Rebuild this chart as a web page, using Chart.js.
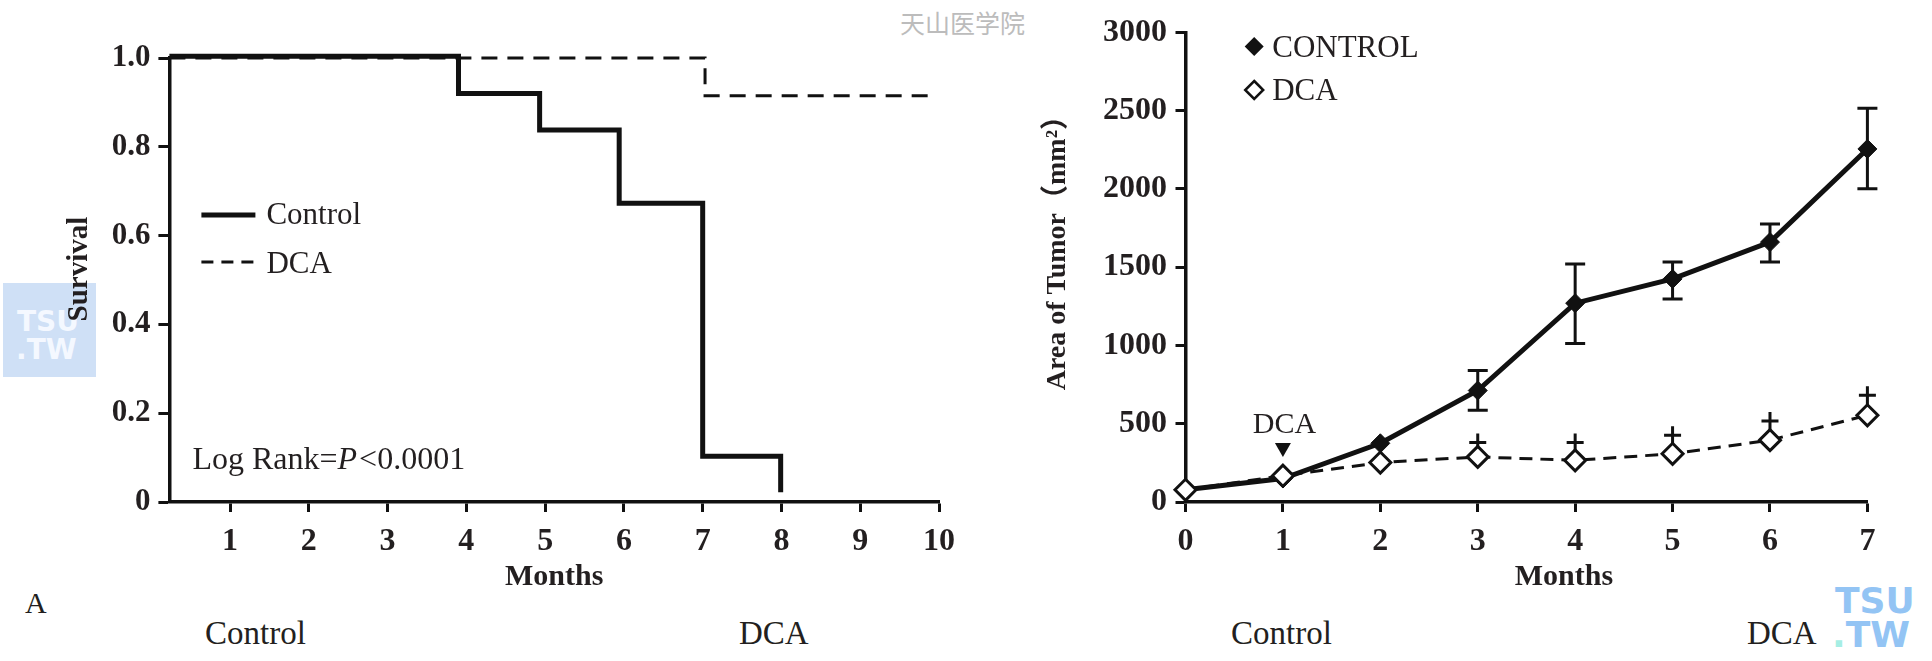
<!DOCTYPE html>
<html><head><meta charset="utf-8">
<script src="https://cdn.jsdelivr.net/npm/chart.js@4.4.1/dist/chart.umd.min.js"></script>
<style>
html,body{margin:0;padding:0;background:#fff;}
body{width:1932px;height:661px;position:relative;overflow:hidden;font-family:"Liberation Serif",serif;color:#231f20;}
.abs{position:absolute;white-space:nowrap;line-height:1;}
canvas{position:absolute;top:0;}
</style></head><body>
<div class="abs" style="left:3px;top:283px;width:93px;height:94px;background:#cfe0f6;"></div>
<div class="abs" style="left:17px;top:308px;font:bold 28px 'DejaVu Sans';color:#f4f8ff;line-height:1;">TSU</div>
<div class="abs" style="left:16px;top:336px;font:bold 28px 'DejaVu Sans';color:#f4f8ff;line-height:1;">.TW</div>
<div class="abs" style="left:1835px;top:583px;font:bold 36px 'DejaVu Sans';color:#93c4f4;line-height:1;">TSU</div>
<div class="abs" style="left:1832px;top:617px;font:bold 36px 'DejaVu Sans';color:#93c4f4;line-height:1;"><span style="color:#a6eee4">.</span>TW</div>
<div class="abs" style="left:900px;top:4px;font:25px 'Noto Sans CJK SC';color:#bcbcbc;">天山医学院</div>
<div class="abs" style="left:205px;top:617px;font-size:33px;">Control</div>
<div class="abs" style="left:739px;top:617px;font-size:33px;">DCA</div>
<div class="abs" style="left:1231px;top:617px;font-size:33px;">Control</div>
<div class="abs" style="left:1747px;top:617px;font-size:33px;">DCA</div>
<div class="abs" style="left:25px;top:588px;font-size:30px;">A</div>
<canvas id="c1" width="966" height="661" style="left:0;width:966px;height:661px;"></canvas>
<canvas id="c2" width="966" height="661" style="left:966px;width:966px;height:661px;"></canvas>
<script>
// ---- Survival (Kaplan-Meier) data ----
const kmControlTimes = [0.23, 3.9, 4.93, 5.94, 7.0, 7.99];
const kmControlSurv  = [1.004, 0.92, 0.838, 0.673, 0.103, 0.022];
const kmDcaTimes = [0.23, 7.03, 9.97];
const kmDcaSurv  = [1.0, 0.915, 0.915];
const kmXTicks = [1, 2, 3, 4, 5, 6, 7, 8, 9, 10];
const kmYTicks = [0, 0.2, 0.4, 0.6, 0.8, 1.0];

// ---- Tumor area data ----
const months = [0, 1, 2, 3, 4, 5, 6, 7];
const controlArea    = [78, 150, 375, 712, 1270, 1425, 1660, 2255];
const controlErrLow  = [null, null, null, 586, 1012, 1297, 1533, 2000];
const controlErrHigh = [null, null, null, 840, 1520, 1533, 1775, 2515];
const dcaArea        = [78, 168, 252, 288, 266, 308, 395, 554];
const dcaErrHigh     = [null, null, null, 380, 380, 427, 518, 682];
const areaYTicks = [0, 500, 1000, 1500, 2000, 2500, 3000];

const INK = '#111';
const TXT = '#231f20';
const SERIF = '"Liberation Serif", "Noto Sans CJK SC", serif';
Chart.defaults.font.family = SERIF;
Chart.defaults.color = TXT;

function axisCommon(tickLen) {
  return {
    grid: {display: true, drawOnChartArea: false, drawTicks: true, tickLength: tickLen, tickWidth: 3, tickColor: INK},
    border: {display: true, color: INK, width: 3.5}
  };
}

const kmLegend = {
  id: 'kmLegend',
  afterDraw(chart) {
    const ctx = chart.ctx, a = chart.chartArea;
    const lx = a.left + 32;
    ctx.save();
    ctx.strokeStyle = INK;
    ctx.lineWidth = 5;
    ctx.beginPath(); ctx.moveTo(lx, a.top + 157); ctx.lineTo(lx + 54, a.top + 157); ctx.stroke();
    ctx.lineWidth = 3; ctx.setLineDash([12, 8]);
    ctx.beginPath(); ctx.moveTo(lx, a.top + 204); ctx.lineTo(lx + 52, a.top + 204); ctx.stroke();
    ctx.setLineDash([]);
    ctx.fillStyle = TXT; ctx.textBaseline = 'alphabetic'; ctx.textAlign = 'left';
    ctx.font = '31px ' + SERIF;
    ctx.fillText('Control', lx + 65, a.top + 166);
    ctx.fillText('DCA', lx + 65, a.top + 215);
    // Log rank
    let x = a.left + 23; const y = a.top + 411;
    ctx.font = '32px ' + SERIF;
    ctx.fillText('Log Rank=', x, y); x += ctx.measureText('Log Rank=').width;
    ctx.font = 'italic 32px ' + SERIF;
    ctx.fillText('P', x, y); x += ctx.measureText('P').width + 2;
    ctx.font = '32px ' + SERIF;
    ctx.fillText('<0.0001', x, y);
    ctx.restore();
  }
};

new Chart(document.getElementById('c1'), {
  type: 'line',
  data: {datasets: [
    {label: 'Control', data: kmControlTimes.map((t, i) => ({x: t, y: kmControlSurv[i]})),
     stepped: 'before', borderColor: INK, borderWidth: 5, pointRadius: 0, clip: false, order: 1,
     borderCapStyle: 'butt', borderJoinStyle: 'miter'},
    {label: 'DCA', data: kmDcaTimes.map((t, i) => ({x: t, y: kmDcaSurv[i]})),
     stepped: 'before', borderColor: INK, borderWidth: 3, borderDash: [16, 10], pointRadius: 0, clip: false, order: 0,
     borderCapStyle: 'butt'}
  ]},
  options: {
    responsive: false, animation: false, events: [],
    layout: {padding: {left: 0, right: 25, top: 58, bottom: 49}},
    plugins: {legend: {display: false}, tooltip: {enabled: false}},
    scales: {
      x: Object.assign(axisCommon(10), {
        type: 'linear', min: 0.23, max: 10,
        afterBuildTicks: s => { s.ticks = kmXTicks.map(v => ({value: v})); },
        afterFit: s => { s.height = 110; },
        ticks: {font: {size: 32, weight: 'bold'}, color: TXT, padding: 11, maxRotation: 0, autoSkip: false},
        title: {display: true, text: 'Months', color: TXT, font: {size: 30, weight: 'bold'}, padding: {top: 0, bottom: 17}}
      }),
      y: Object.assign(axisCommon(11), {
        min: 0, max: 1,
        afterBuildTicks: s => { s.ticks = kmYTicks.map(v => ({value: v})); },
        afterFit: s => { s.width = 169.4; },
        ticks: {font: {size: 31, weight: 'bold'}, color: TXT, padding: 8, callback: v => v === 0 ? '0' : v.toFixed(1)},
        title: {display: true, text: '   Survival', color: TXT, font: {size: 29, weight: 'bold'}, padding: {top: 62.6, bottom: 0}}
      })
    }
  },
  plugins: [kmLegend]
});

const errorBars = {
  id: 'errorBars',
  beforeDatasetsDraw(chart) {
    const ctx = chart.ctx, xs = chart.scales.x, ys = chart.scales.y;
    ctx.save();
    ctx.strokeStyle = INK; ctx.lineWidth = 3; ctx.setLineDash([]);
    months.forEach((m, i) => {
      const px = xs.getPixelForValue(m);
      if (controlErrHigh[i] != null) {
        const yh = ys.getPixelForValue(controlErrHigh[i]);
        const yl = ys.getPixelForValue(controlErrLow[i]);
        ctx.beginPath();
        ctx.moveTo(px, yh); ctx.lineTo(px, yl);
        ctx.moveTo(px - 10, yh); ctx.lineTo(px + 10, yh);
        ctx.moveTo(px - 10, yl); ctx.lineTo(px + 10, yl);
        ctx.stroke();
      }
      if (dcaErrHigh[i] != null) {
        const py = ys.getPixelForValue(dcaArea[i]);
        const yc = ys.getPixelForValue(dcaErrHigh[i]);
        ctx.beginPath();
        ctx.moveTo(px, py); ctx.lineTo(px, yc - 9);
        ctx.moveTo(px - 8.5, yc); ctx.lineTo(px + 8.5, yc);
        ctx.stroke();
      }
    });
    ctx.restore();
  }
};

function diamond(ctx, x, y, r) {
  ctx.beginPath();
  ctx.moveTo(x, y - r); ctx.lineTo(x + r, y); ctx.lineTo(x, y + r); ctx.lineTo(x - r, y); ctx.closePath();
}

const areaDecor = {
  id: 'areaDecor',
  afterDraw(chart) {
    const ctx = chart.ctx, a = chart.chartArea, xs = chart.scales.x;
    ctx.save();
    const lx = a.left + 68.7;
    ctx.fillStyle = INK; ctx.strokeStyle = INK;
    diamond(ctx, lx, 46.5, 9.5); ctx.fill();
    ctx.lineWidth = 2.5; ctx.fillStyle = '#fff';
    diamond(ctx, lx, 90, 9); ctx.fill(); ctx.stroke();
    ctx.fillStyle = TXT; ctx.font = '31px ' + SERIF; ctx.textBaseline = 'alphabetic'; ctx.textAlign = 'left';
    ctx.fillText('CONTROL', lx + 18, 56.7);
    ctx.fillText('DCA', lx + 18, 100);
    // DCA start annotation
    const px = xs.getPixelForValue(months[1]);
    ctx.font = '30px ' + SERIF; ctx.textAlign = 'center';
    ctx.fillText('DCA', px + 1.5, 432.7);
    ctx.fillStyle = INK;
    ctx.beginPath(); ctx.moveTo(px - 8, 443); ctx.lineTo(px + 8, 443); ctx.lineTo(px, 457); ctx.closePath(); ctx.fill();
    ctx.restore();
  }
};

new Chart(document.getElementById('c2'), {
  type: 'line',
  data: {datasets: [
    {label: 'DCA', data: months.map((m, i) => ({x: m, y: dcaArea[i]})),
     borderColor: INK, borderWidth: 3, borderDash: [13, 8], tension: 0,
     pointStyle: 'rectRot', pointRadius: 10.5, pointBackgroundColor: '#fff', pointBorderColor: INK, pointBorderWidth: 3,
     order: 0, clip: false},
    {label: 'CONTROL', data: months.map((m, i) => ({x: m, y: controlArea[i]})),
     borderColor: INK, borderWidth: 5, tension: 0,
     pointStyle: 'rectRot', pointRadius: 9.5, pointBackgroundColor: INK, pointBorderColor: INK, pointBorderWidth: 1,
     order: 1, clip: false}
  ]},
  options: {
    responsive: false, animation: false, events: [],
    layout: {padding: {left: 0, right: 64.6, top: 32.3, bottom: 49}},
    plugins: {legend: {display: false}, tooltip: {enabled: false}},
    scales: {
      x: Object.assign(axisCommon(10), {
        type: 'linear', min: 0, max: 7,
        afterBuildTicks: s => { s.ticks = months.map(v => ({value: v})); },
        afterFit: s => { s.height = 110; },
        ticks: {font: {size: 32, weight: 'bold'}, color: TXT, padding: 11, maxRotation: 0, autoSkip: false},
        title: {display: true, text: '          Months', color: TXT, font: {size: 30, weight: 'bold'}, padding: {top: 0, bottom: 17}}
      }),
      y: Object.assign(axisCommon(10), {
        min: 0, max: 3000,
        afterBuildTicks: s => { s.ticks = areaYTicks.map(v => ({value: v})); },
        afterFit: s => { s.width = 219.5; },
        ticks: {font: {size: 32, weight: 'bold'}, color: TXT, padding: 8.5, callback: v => String(v)},
        title: {display: true, text: '      Area of Tumor（mm²）', color: TXT, font: {size: 28, weight: 'bold'}, padding: {top: 75, bottom: 0}}
      })
    }
  },
  plugins: [errorBars, areaDecor]
});
</script>
</body></html>
